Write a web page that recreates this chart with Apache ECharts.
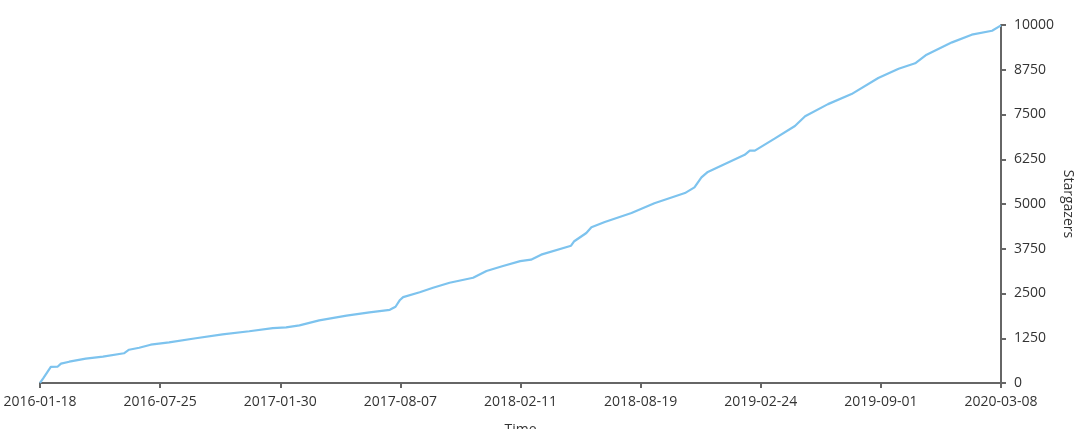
<!DOCTYPE html>
<html>
<head>
<meta charset="utf-8">
<script src="https://cdn.jsdelivr.net/npm/echarts@6/dist/echarts.min.js"></script>
<style>html,body{margin:0;padding:0;background:#fff}#c{width:1080px;height:429px}</style>
</head>
<body>
<div id="c"></div>
<script>
var startDate = '2016-01-18';
var endDate = '2020-03-08';
var tickLabels = ['2016-01-18','2016-07-25','2017-01-30','2017-08-07','2018-02-11','2018-08-19','2019-02-24','2019-09-01','2020-03-08'];
var dates = ['2016-01-18','2016-01-19','2016-01-23','2016-02-04','2016-02-15','2016-02-20','2016-03-04','2016-03-30','2016-04-26','2016-05-29','2016-06-06','2016-06-22','2016-07-10','2016-08-08','2016-09-19','2016-10-31','2016-12-12','2017-01-18','2017-02-08','2017-03-01','2017-04-01','2017-05-14','2017-06-19','2017-07-21','2017-07-30','2017-08-06','2017-08-11','2017-09-06','2017-09-27','2017-10-23','2017-11-29','2017-12-20','2018-01-15','2018-02-11','2018-02-28','2018-03-16','2018-05-02','2018-05-07','2018-05-26','2018-06-03','2018-06-24','2018-08-05','2018-09-10','2018-10-28','2018-11-12','2018-11-23','2018-12-03','2018-12-24','2019-01-30','2019-02-07','2019-02-15','2019-03-18','2019-04-19','2019-05-05','2019-06-10','2019-07-17','2019-08-28','2019-09-29','2019-10-25','2019-11-12','2019-12-22','2020-01-22','2020-02-23','2020-03-08'];
var stars = [5,60,130,450,460,540,595,680,735,830,930,985,1070,1135,1250,1360,1445,1535,1555,1610,1750,1880,1975,2045,2130,2320,2400,2535,2660,2800,2940,3130,3270,3405,3445,3585,3835,3960,4190,4350,4495,4750,5020,5305,5465,5745,5895,6070,6375,6490,6490,6825,7180,7450,7790,8070,8520,8780,8930,9170,9515,9730,9840,9990];

var DAY = 86400000;
var base = Date.parse(startDate);
var span = (Date.parse(endDate) - base) / DAY;
var step = span / (tickLabels.length - 1);
var seriesData = dates.map(function (d, i) { return [(Date.parse(d) - base) / DAY, stars[i]]; });

var font = "'Open Sans', 'Noto Sans', sans-serif";
var chart = echarts.init(document.getElementById('c'), null, {renderer: 'canvas'});
chart.setOption({
  animation: false,
  backgroundColor: '#fff',
  grid: {left: 40, right: 79, top: 25, bottom: 46, containLabel: false, outerBoundsMode: 'none'},
  xAxis: {
    type: 'value',
    min: 0, max: span, interval: step,
    name: 'Time', nameLocation: 'middle', nameGap: 40, nameMoveOverlap: false,
    nameTextStyle: {color: '#333', fontSize: 14, fontFamily: font},
    axisLine: {onZero: false, lineStyle: {color: '#666', width: 2}},
    axisTick: {show: true, length: 5, lineStyle: {color: '#666', width: 2}},
    axisLabel: {color: '#333', fontSize: 14, fontFamily: font, margin: 12,
      formatter: function (v) { var i = Math.round(v / step); return tickLabels[i] || ''; }},
    splitLine: {show: false}
  },
  yAxis: {
    type: 'value', position: 'right',
    min: 0, max: 10000, interval: 1250,
    name: 'Stargazers', nameLocation: 'middle', nameGap: 60, nameRotate: -90, nameMoveOverlap: false,
    nameTextStyle: {color: '#333', fontSize: 14, fontFamily: font},
    axisLine: {show: true, onZero: false, lineStyle: {color: '#666', width: 2}},
    axisTick: {show: true, length: 5, lineStyle: {color: '#666', width: 2}},
    axisLabel: {color: '#333', fontSize: 14, fontFamily: font, margin: 13,
      formatter: function (v) { return String(v); }},
    splitLine: {show: false}
  },
  series: [{
    type: 'line',
    data: seriesData,
    showSymbol: false,
    smooth: false,
    lineStyle: {color: '#7dc3ee', width: 2.2},
    itemStyle: {color: '#7dc3ee'}
  }]
});
</script>
</body>
</html>
